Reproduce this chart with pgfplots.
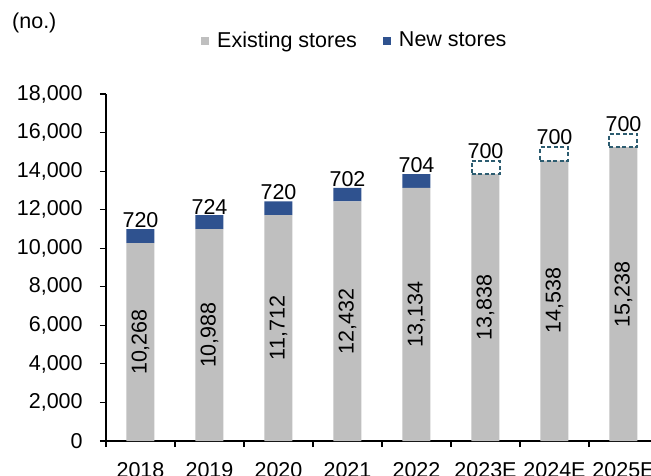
\documentclass[border=0pt]{standalone}
\usepackage{pgfplots}
\pgfplotsset{compat=1.18}
\usepackage{pgfplotstable}
\usepackage{fontspec}
\setmainfont{Liberation Sans}
\definecolor{exgray}{RGB}{191,191,191}
\definecolor{newblue}{RGB}{47,82,143}
\definecolor{dashteal}{RGB}{44,92,112}

\pgfplotstableread{
x ex exlab nw nwlab
0 10268 10,268 720 720
1 10988 10,988 724 724
2 11712 11,712 720 720
3 12432 12,432 702 702
4 13134 13,134 704 704
5 13838 13,838 0 {}
6 14538 14,538 0 {}
7 15238 15,238 0 {}
}\data

\pgfplotstableread{
x ex d lab
5 13838 700 700
6 14538 700 700
7 15238 700 700
}\est

\pgfplotsset{
  common/.style={
    at={(0pt,0pt)}, anchor=south west,
    scale only axis, width=552pt, height=347pt,
    ybar stacked, bar width=28pt,
    xmin=-0.5, xmax=7.5, ymin=0, ymax=18000,
    clip=false,
  },
}

\begin{document}
\fontsize{21.5}{25}\selectfont
\begin{tikzpicture}
\useasboundingbox (-106pt,-34pt) rectangle (545pt,441pt);
\clip (-106pt,-34pt) rectangle (545pt,441pt);
\begin{axis}[
  common,
  axis x line*=bottom, axis y line*=left,
  axis line style={line width=1.2pt, black},
  ytick={0,2000,...,18000}, scaled y ticks=false,
  yticklabel style={xshift=-10pt, /pgf/number format/.cd, 1000 sep={,}, assume math mode=true},
  xtick={-0.5,0.5,...,7.5},
  x tick label as interval=true,
  xticklabels={2018,2019,2020,2021,2022,2023E,2024E,2025E},
  x tick label style={yshift=-8pt},
  tick align=outside, major tick length=6pt,
  tick style={black, line width=1.2pt},
  legend style={draw=none, fill=none, at={(0.1721,1.1527)}, anchor=west,
    inner sep=0pt,
    /tikz/every even column/.append style={column sep=24pt},
    /tikz/every odd column/.append style={column sep=6pt}},
  legend columns=2,
]
\addplot[fill=exgray, draw=none,
  nodes near coords, point meta=explicit symbolic,
  every node near coord/.append style={anchor=center, rotate=90},
  legend image code/.code={\fill[exgray] (0pt,-4pt) rectangle (8pt,4pt);}]
  table[x=x, y=ex, meta=exlab] {\data};
\addlegendentry{Existing stores}
\addplot[fill=newblue, draw=none,
  legend image code/.code={\fill[newblue] (0pt,-4pt) rectangle (8pt,4pt);}]
  table[x=x, y=nw] {\data};
\addlegendentry{New stores}
\addplot[fill=none, draw=none, forget plot,
  nodes near coords, point meta=explicit symbolic,
  every node near coord/.append style={anchor=south, inner sep=1pt}]
  table[x=x, y expr=1, meta=nwlab] {\data};
\node[anchor=west, inner sep=0pt] at (axis description cs:-0.1703,1.2046) {(no.)};
\end{axis}
\begin{axis}[common, hide axis]
\addplot[fill=none, draw=none] table[x=x, y=ex] {\est};
\addplot[fill=none, draw=dashteal, line width=2pt, dash pattern=on 4pt off 2.5pt]
  table[x=x, y=d] {\est};
\addplot[fill=none, draw=none,
  nodes near coords, point meta=explicit symbolic,
  every node near coord/.append style={anchor=south, inner sep=2pt}]
  table[x=x, y expr=1, meta=lab] {\est};
\end{axis}
\end{tikzpicture}
\end{document}
